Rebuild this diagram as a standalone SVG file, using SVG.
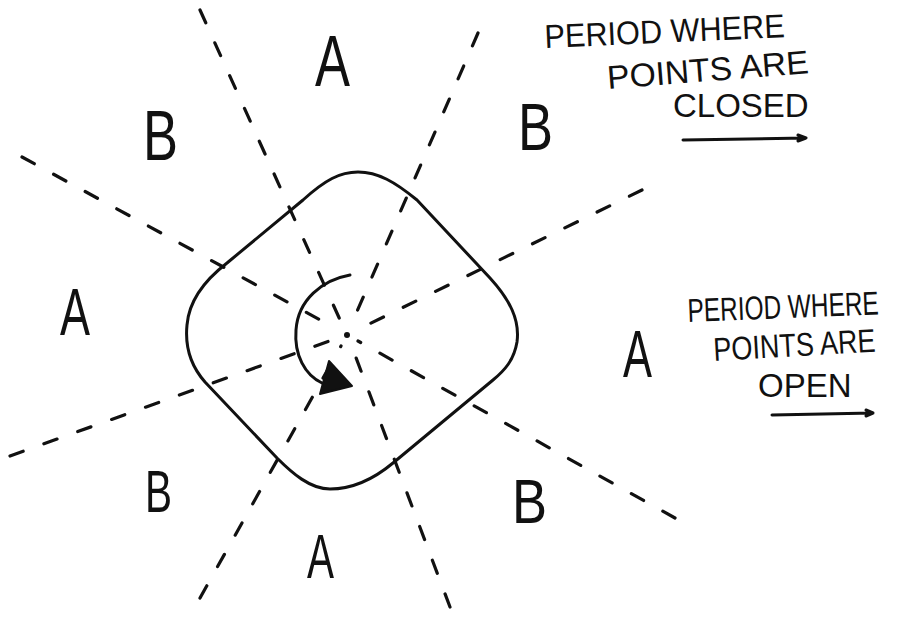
<svg xmlns="http://www.w3.org/2000/svg" width="908" height="618" viewBox="0 0 908 618">
<style>
.ray{fill:none;stroke:#111;stroke-width:3.2;stroke-linecap:round;stroke-dasharray:14 22}
.ink{fill:none;stroke:#111;stroke-width:3;stroke-linecap:round;stroke-linejoin:round}
.lbl{font-family:"Liberation Sans",Arial,sans-serif;fill:#111}
.note{font-family:"Liberation Sans",Arial,sans-serif;font-size:33px;fill:#111}
</style>
<rect width="908" height="618" fill="#fff"/>
<g id="connectors">
<path class="ray" d="M200,10 L341,322"/>
<path class="ray" d="M478,33 L352,323"/>
<path class="ray" d="M22,157 L335,328"/>
<path class="ray" d="M642,190 L359,329"/>
<path class="ray" d="M10,456 L335,339"/>
<path class="ray" d="M675,518 L358,341"/>
<path class="ray" d="M200,598 L341,346"/>
<path class="ray" d="M450,607 L352,347"/>
</g>
<g id="loop">
<path class="ink" d="M303,200 C325,180 340,172 358,172 C378,172 395,182 417,200 L490,278 C510,300 520,320 517,342 C514,360 505,370 493,380 L393,463 C375,478 355,489 330,489 C310,489 292,473 277,458 L205,382 C190,365 185,345 187,325 C189,300 205,280 227,263 Z"/>
</g>
<g id="rotation">
<path class="ink" d="M350,275 C322,280 298,300 296,330 C294,355 305,375 322,383"/>
<polygon points="329,361 320,394 352,386" fill="#111" stroke="#111" stroke-width="2" stroke-linejoin="round"/>
<circle cx="347" cy="335" r="3" fill="#111"/>
</g>
<g id="sectors">
<text class="lbl" x="315" y="86" font-size="72" textLength="35" lengthAdjust="spacingAndGlyphs">A</text>
<text class="lbl" x="143" y="160" font-size="70" textLength="35" lengthAdjust="spacingAndGlyphs">B</text>
<text class="lbl" x="518" y="150" font-size="66" textLength="35" lengthAdjust="spacingAndGlyphs">B</text>
<text class="lbl" x="60" y="335" font-size="66" textLength="30" lengthAdjust="spacingAndGlyphs">A</text>
<text class="lbl" x="623" y="377" font-size="66" textLength="29" lengthAdjust="spacingAndGlyphs">A</text>
<text class="lbl" x="145" y="512" font-size="60" textLength="27" lengthAdjust="spacingAndGlyphs">B</text>
<text class="lbl" x="512" y="523" font-size="63" textLength="35" lengthAdjust="spacingAndGlyphs">B</text>
<text class="lbl" x="307" y="578" font-size="63" textLength="27" lengthAdjust="spacingAndGlyphs">A</text>
</g>
<g id="note-closed">
<text class="note" transform="translate(545,48) rotate(-2.6) scale(0.93,1)">PERIOD WHERE</text>
<text class="note" transform="translate(608,89) rotate(-4.5) scale(1.02,1)">POINTS ARE</text>
<text class="note" transform="translate(673,117)">CLOSED</text>
<path class="ink" d="M683,140 L806,138 M798,135 L806,138 L798,141" stroke-width="2.5"/>
</g>
<g id="note-open">
<text class="note" font-size="34" transform="translate(688,322) rotate(-2.3) scale(0.74,1)">PERIOD WHERE</text>
<text class="note" font-size="34" transform="translate(714,361) rotate(-3.3) scale(0.82,1)">POINTS ARE</text>
<text class="note" font-size="34" transform="translate(758,397)">OPEN</text>
<path class="ink" d="M772,415 L873,413 M866,410 L873,413 L866,416" stroke-width="2.5"/>
</g>
</svg>
